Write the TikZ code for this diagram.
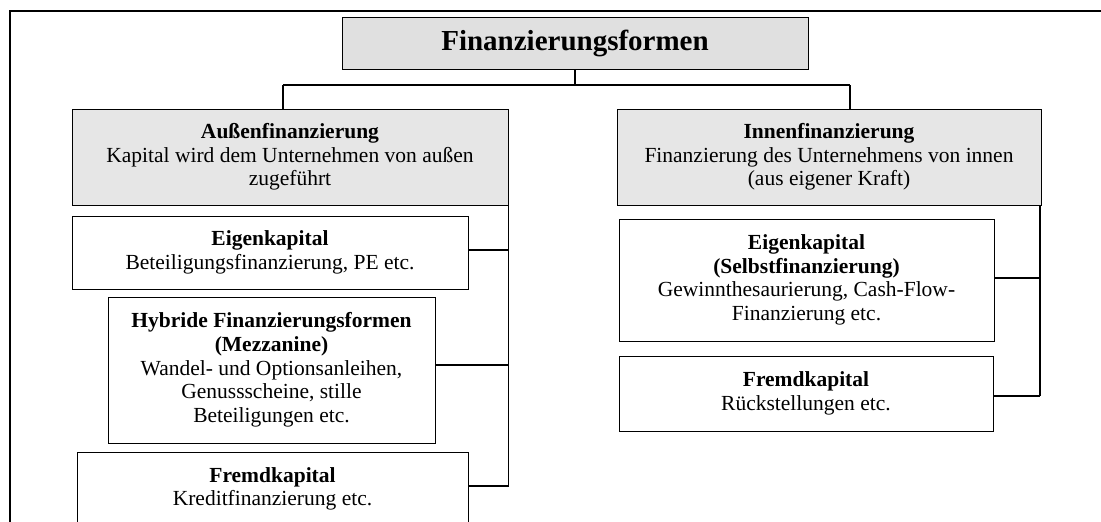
\documentclass[tikz,border=0pt]{standalone}
\usepackage{fontspec}
\setmainfont{Liberation Serif}
\definecolor{boxgray}{HTML}{E6E6E6}
\definecolor{titlegray}{HTML}{E0E0E0}
\newcommand{\bodyfnt}{\fontsize{21.5}{23.7}\selectfont}
\newcommand{\titlefnt}{\fontsize{29}{32}\selectfont\bfseries}
\tikzset{
  gbox/.style={draw=black, line width=1pt, fill=boxgray, align=center, inner sep=0pt, font=\bodyfnt},
  wbox/.style={draw=black, line width=1pt, fill=white, align=center, inner sep=0pt, font=\bodyfnt},
  conn/.style={draw=black, line width=1.3pt},
  frame/.style={draw=black, line width=2pt},
}
\begin{document}
\begin{tikzpicture}[x=1pt, y=-1pt]
\clip (0,0) rectangle (1101,522);
\useasboundingbox (0,0) rectangle (1101,522);
% frame
\draw[frame] (10,530) -- (10,11) -- (1105,11);
% nodes
\node[gbox, fill=titlegray, font=\titlefnt, minimum width=466, minimum height=52] (title) at (575,43) {Finanzierungsformen};
\node[gbox, minimum width=436, minimum height=96] (aussen) at (290,157)
  {\textbf{Außenfinanzierung}\\Kapital wird dem Unternehmen von außen\\zugeführt};
\node[gbox, minimum width=424, minimum height=96] (innen) at (829,157)
  {\textbf{Innenfinanzierung}\\Finanzierung des Unternehmens von innen\\(aus eigener Kraft)};
\node[wbox, minimum width=396, minimum height=73] (ekl) at (270,252.5)
  {\textbf{Eigenkapital}\\Beteiligungsfinanzierung, PE etc.};
\node[wbox, minimum width=327, minimum height=146] (hyb) at (271.5,370)
  {\textbf{Hybride Finanzierungsformen}\\\textbf{(Mezzanine)}\\Wandel- und Optionsanleihen,\\Genussscheine, stille\\Beteiligungen etc.};
\node[wbox, minimum width=391, minimum height=74] (fkl) at (272.5,489)
  {\textbf{Fremdkapital}\\Kreditfinanzierung etc.};
\node[wbox, minimum width=375, minimum height=122] (ekr) at (806.5,280)
  {\textbf{Eigenkapital}\\\textbf{(Selbstfinanzierung)}\\Gewinnthesaurierung, Cash-Flow-\\Finanzierung etc.};
\node[wbox, minimum width=374, minimum height=75] (fkr) at (806,393.5)
  {\textbf{Fremdkapital}\\Rückstellungen etc.};
% connectors
\coordinate (j) at (575,85);
\coordinate (jl) at (283,85);
\coordinate (jr) at (850,85);
\draw[conn] (title.south) -- (j);
\draw[conn] (jl) -- (jr);
\draw[conn] (jl) -- (jl |- aussen.north);
\draw[conn] (jr) -- (jr |- innen.north);
\coordinate (lb) at (aussen.south east |- 0,486);
\draw[conn] (aussen.south east) -- (lb);
\draw[conn] (ekl.east |- 0,250) -- (aussen.east |- 0,250);
\draw[conn] (hyb.east |- 0,365) -- (aussen.east |- 0,365);
\draw[conn] (fkl.east |- 0,486) -- (lb);
\coordinate (rb) at (1040,396);
\draw[conn] (innen.south east -| rb) -- (rb);
\draw[conn] (ekr.east |- 0,278) -- (rb |- 0,278);
\draw[conn] (fkr.east |- rb) -- (rb);
\end{tikzpicture}
\end{document}
